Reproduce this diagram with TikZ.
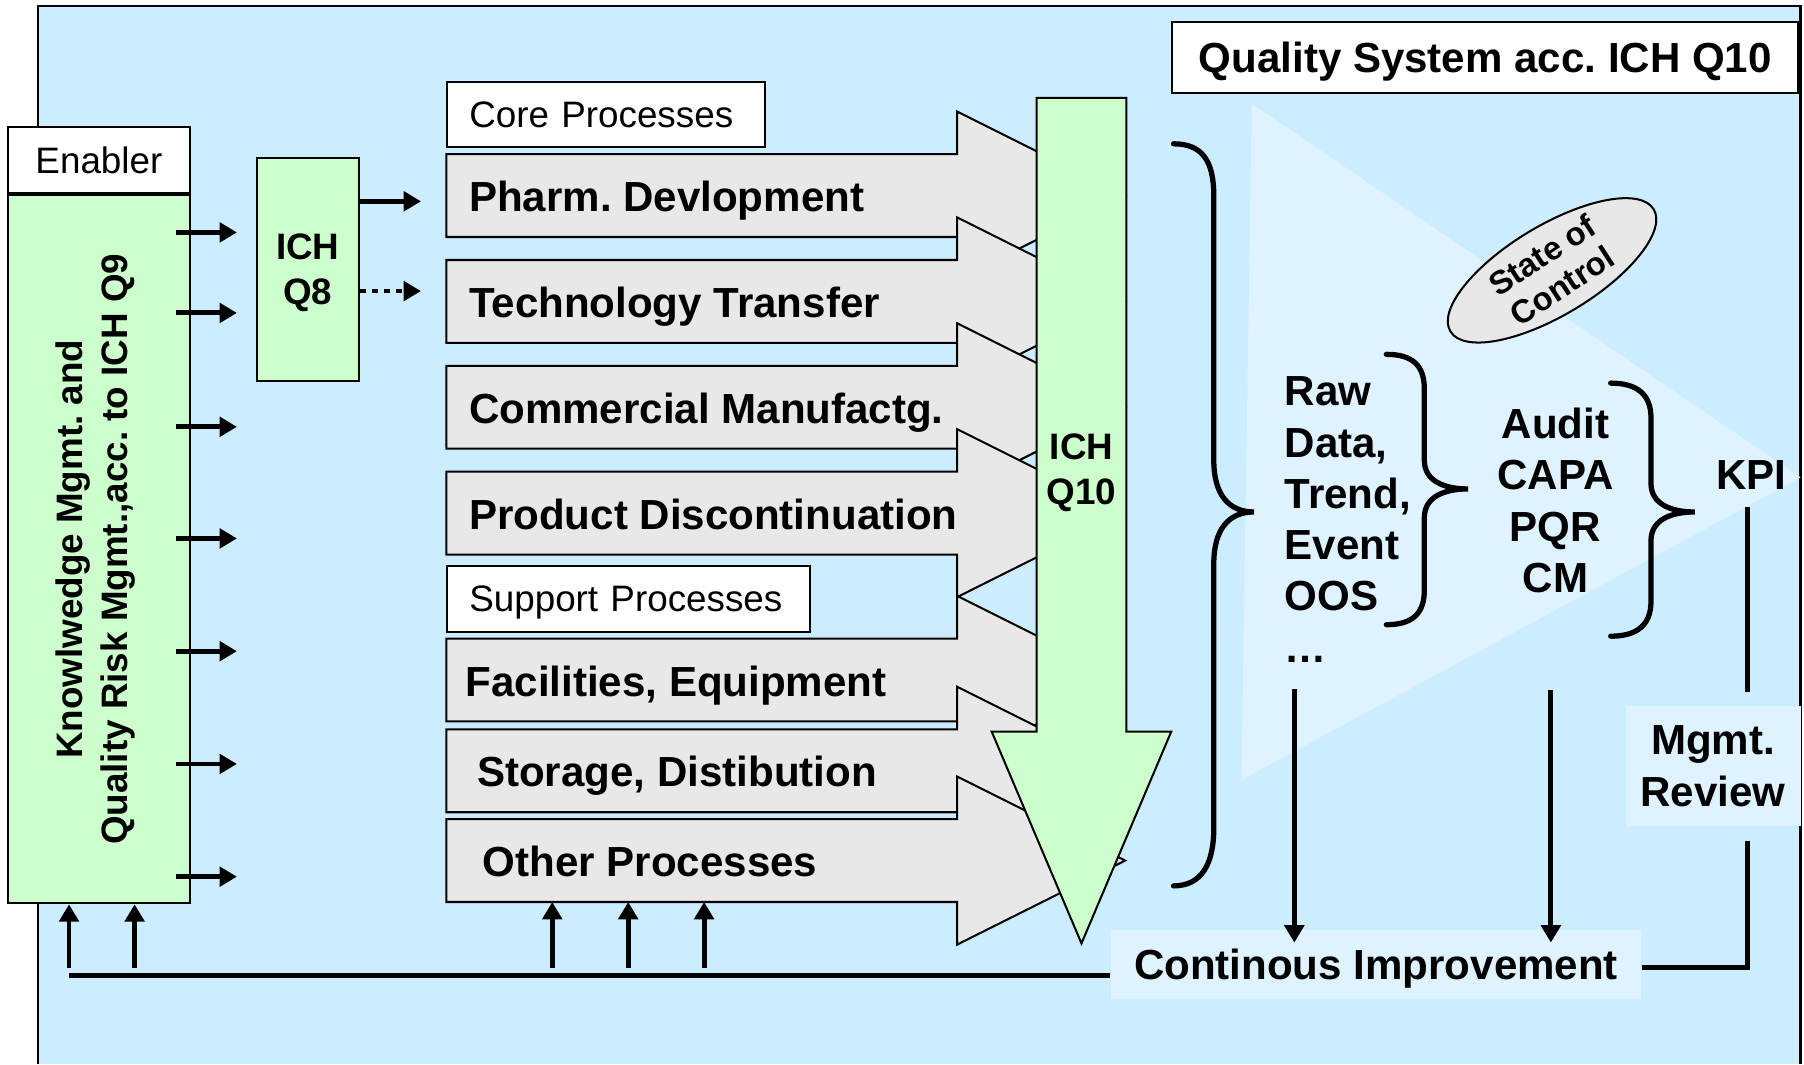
\documentclass[tikz,border=0pt]{standalone}
\usepackage{fontspec}
\setmainfont{Liberation Sans}
\usepackage{xcolor}
\usepackage{tikz}
\usetikzlibrary{arrows.meta, positioning, shapes.geometric}

\definecolor{bgblue}{HTML}{CCECFF}
\definecolor{paleblue}{HTML}{DFF2FF}
\definecolor{qgreen}{HTML}{CCFFCC}
\definecolor{procgray}{HTML}{E8E8E8}

\frenchspacing

\begin{document}
\begin{tikzpicture}[
    x=0.01cm, y=-0.01cm,
    bigfont/.style={font=\bfseries\fontsize{10.4}{12.66}\selectfont},
    smallfont/.style={font=\fontsize{9.1}{10.9}\selectfont},
    smallbold/.style={font=\bfseries\fontsize{9.1}{11.1}\selectfont},
    labelbox/.style={draw, fill=white, line width=0.5pt, inner sep=0pt, text depth=0pt, smallfont},
    greenbox/.style={draw, fill=qgreen, line width=0.5pt, inner sep=0pt, align=center, smallbold},
    procarrow/.style={draw, fill=procgray, line width=0.5pt},
    plainbox/.style={fill=paleblue, inner sep=0pt, bigfont, align=center},
    feed/.style={line width=1.2pt, -{Triangle[length=4.3pt, width=4.8pt]}},
    thickline/.style={line width=1.2pt},
    curly/.style={line width=1.3pt, line cap=round}
]
\useasboundingbox (0,0) rectangle (1568,925);

% Background and highlight wedge
\fill[bgblue] (33,5) rectangle (1565,925);
\draw[line width=0.6pt] (33,925) -- (33,5) -- (1565,5) -- (1565,925);
\fill[paleblue] (1088,90) -- (1565,415) -- (1079,678) -- cycle;

\node[labelbox, bigfont, minimum width=5.44cm, minimum height=0.62cm] (title) at (1291,50) {Quality System acc. ICH Q10};

% Enabler column
\node[labelbox, minimum width=1.58cm, minimum height=0.58cm] (enabler) at (86,139) {Enabler};
\node[greenbox, minimum width=1.58cm, minimum height=6.15cm, below=0pt of enabler] (kb) {};
\node[smallbold, rotate=90, align=center] (kbtext) at ([xshift=-0.03cm]kb.center) {Knowlwedge Mgmt. and\\Quality Risk Mgmt.,acc. to ICH Q9};
\node[greenbox, minimum width=0.89cm, minimum height=1.94cm] (q8) at (267.5,234) {};
\node[smallbold, align=center] (q8text) at (267.5,237) {ICH\\Q8};

\node[labelbox, anchor=west, text width=2.38cm, inner xsep=0.19cm, minimum height=0.57cm] (core) at (388,99.5) {Core Processes};

% Process arrows
\foreach \yc/\tx/\lbl [count=\i] in {170/407/{Pharm. Devlopment}, 262/407/{Technology Transfer},
    354/407/{Commercial Manufactg.}, 446/407/{Product Discontinuation},
    591/404/{Facilities, Equipment}, 670/414/{Storage, Distibution}, 748/419/{Other Processes}}
{
    \draw[procarrow] (388,\yc-36) -- (832,\yc-36) -- (832,\yc-73) -- (978,\yc)
        -- (832,\yc+73) -- (832,\yc+36) -- (388,\yc+36) -- cycle;
    \coordinate (pa\i) at (388,\yc+36);
    \node[bigfont, anchor=base west, inner sep=0pt] (proc\i) at (\tx,\yc+14) {\lbl};
}

\node[labelbox, anchor=west, text width=2.77cm, inner xsep=0.19cm, minimum height=0.57cm] (support) at (388,520.5) {Support Processes};

% ICH Q10 down arrow
\draw[procarrow, fill=qgreen] (901,85) -- (979,85) -- (979,636) -- (1018,636)
    -- (940,820) -- (862,636) -- (901,636) -- cycle;
\node[smallbold, align=center] (q10) at (940,411) {ICH\\Q10};

\foreach \y in {202,272,371,468,566,664,762}
    \draw[feed, shorten <=-0.13cm] (kb.east |- 0,\y) -- ++(40,0);
\draw[feed] (q8.east |- 0,175) -- ++(53,0);
\draw[feed, dash pattern=on 1.5pt off 1.5pt] (q8.east |- 0,253) -- ++(53,0);

% State of control
\node[draw, ellipse, fill=procgray, line width=0.5pt, minimum width=2.06cm, minimum height=0.78cm,
    inner sep=0pt, rotate=31] (soc) at (1349,235) {};
\node[font=\bfseries\fontsize{8.1}{9}\selectfont, align=center, rotate=33] (soctext) at (soc) {State of\\Control};

% Braces
\draw[curly] (1020,125) .. controls (1045,125) and (1055,140) .. (1055,170) -- (1055,400)
    .. controls (1055,430) and (1068,445) .. (1090,445)
    .. controls (1068,445) and (1055,460) .. (1055,490) -- (1055,720)
    .. controls (1055,750) and (1045,770) .. (1020,770);
\draw[curly] (1205,308) .. controls (1228,308) and (1238,318) .. (1238,338) -- (1238,400)
    .. controls (1238,418) and (1255,425) .. (1276,425)
    .. controls (1255,425) and (1238,432) .. (1238,450) -- (1238,513)
    .. controls (1238,533) and (1228,543) .. (1205,543);
\draw[curly] (1400,333) .. controls (1423,333) and (1435,343) .. (1435,363) -- (1435,420)
    .. controls (1435,438) and (1452,445) .. (1473,445)
    .. controls (1452,445) and (1435,452) .. (1435,470) -- (1435,523)
    .. controls (1435,543) and (1423,553) .. (1400,553);

\node[bigfont, align=left, anchor=north west, inner sep=0pt] (raw) at (1116,327) {Raw\\Data,\\Trend,\\Event\\OOS\\\ldots};
\node[bigfont, align=center, anchor=north, inner sep=0pt] (audit) at (1352,354) {Audit\\CAPA\\PQR\\CM};
\node[bigfont, inner sep=0pt] (kpi) at (1522,413) {KPI};

\node[plainbox, minimum width=1.52cm, minimum height=1.04cm] (mgmt) at (1489,666) {Mgmt.\\Review};
\node[plainbox, text depth=0pt, minimum width=4.60cm, minimum height=0.60cm] (ci) at (1196,838) {Continous Improvement};

% Feedback loop
\draw[thickline, shorten <=0.14cm, shorten >=0.12cm] (kpi.south -| 1519,0) -- (mgmt.north -| 1519,0);
\draw[thickline, shorten <=0.12cm] (mgmt.south -| 1519,0) -- (1519,841) -- (ci.east |- 0,841);
\draw[feed, shorten <=0.23cm, shorten >=-0.12cm] (raw.south -| 1125,0) -- (ci.north -| 1125,0);
\draw[feed, shorten <=0.84cm, shorten >=-0.12cm] (audit.south -| 1348,0) -- (ci.north -| 1348,0);
\draw[thickline] (ci.west |- 0,848) -- (60,848);
\foreach \x in {60,117}
    \draw[feed] (\x,841) -- (kb.south -| \x,0);
\foreach \x in {480,546,612}
    \draw[feed] (\x,841) -- (pa7 -| \x,0);

\end{tikzpicture}
\end{document}
